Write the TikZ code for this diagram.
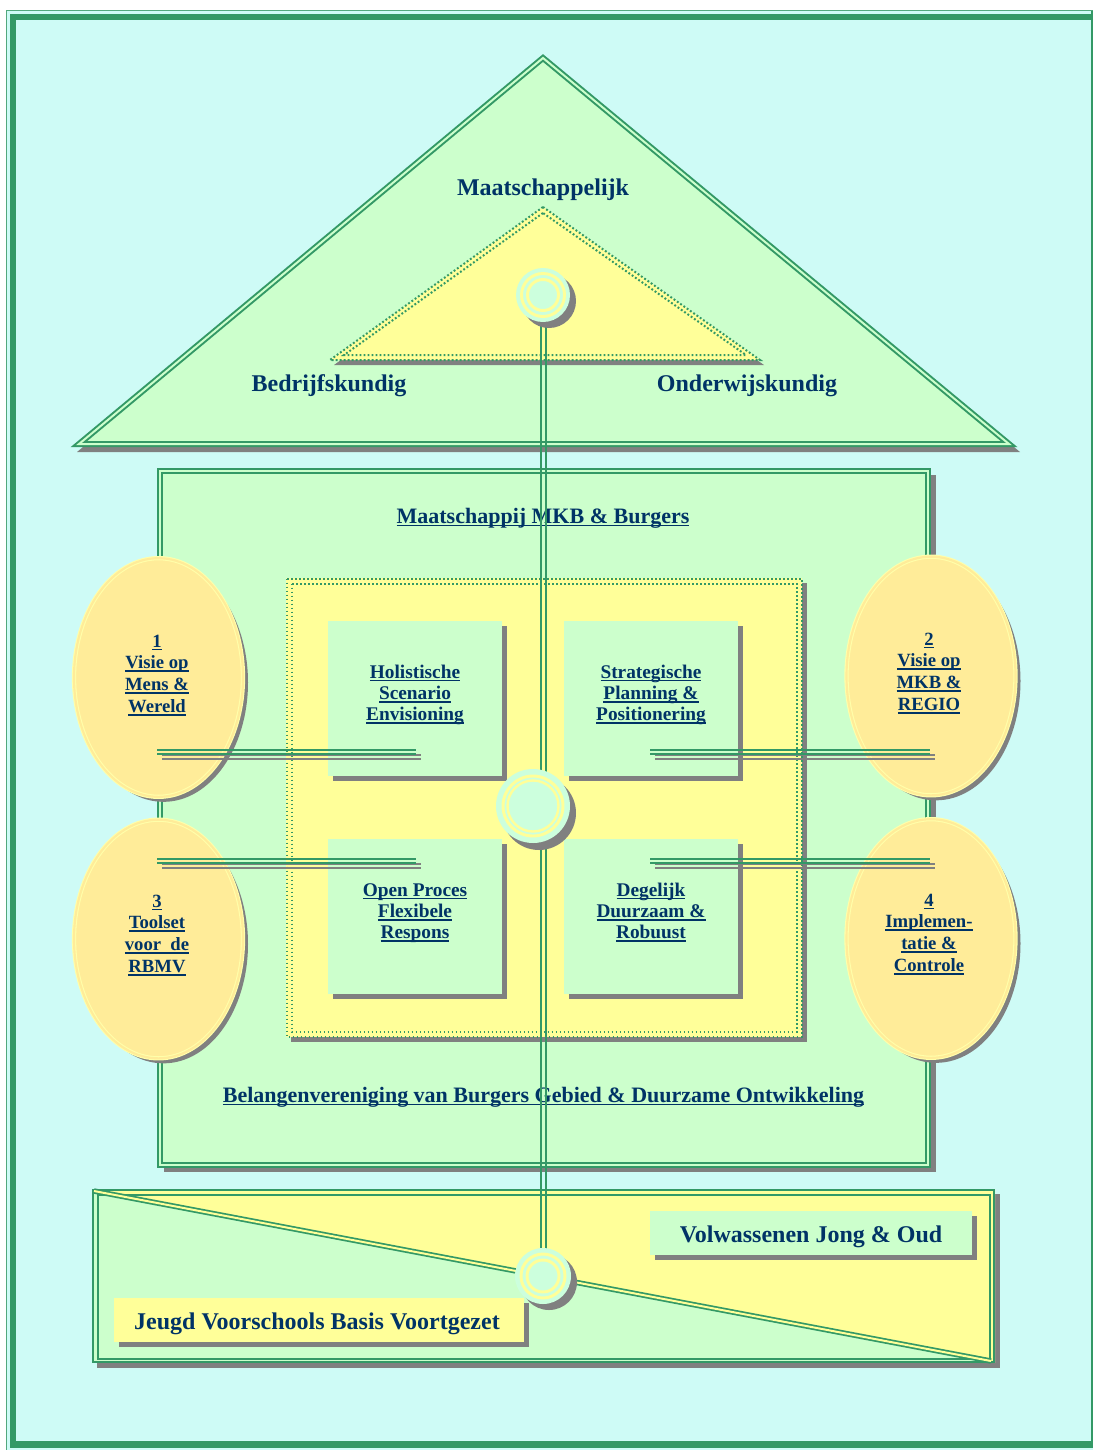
\documentclass[tikz,border=0pt]{standalone}
\usepackage{fontspec}
\setmainfont{Liberation Serif}
\usetikzlibrary{shapes.geometric}
\definecolor{bgc}{RGB}{206,251,246}
\definecolor{lgreen}{RGB}{204,255,204}
\definecolor{lyellow}{RGB}{255,255,153}
\definecolor{eyellow}{RGB}{255,236,153}
\definecolor{eline}{RGB}{255,255,170}
\definecolor{dgreen}{RGB}{51,153,102}
\definecolor{shad}{RGB}{128,128,128}
\definecolor{navy}{RGB}{0,51,102}
\definecolor{ccyan}{RGB}{204,255,221}
\newcommand\ulx[1]{\setbox0\hbox{#1}\rlap{\rule[-2.6pt]{\wd0}{1.4pt}}\box0}
\newcommand\stk[1]{\begin{tabular}[t]{@{}c@{}}#1\end{tabular}}
\begin{document}
\begin{tikzpicture}[x=0.75pt,y=-0.75pt,
  dbl/.style={draw=dgreen,line width=1.5pt,double=lgreen,double distance=1.5pt,line join=miter},
  dots/.style={draw=dgreen,line width=1.5pt,dash pattern=on 1.4pt off 1.6pt},
  txt/.style={text=navy,inner sep=0pt,font=\bfseries},
  big/.style={txt,font=\fontsize{18}{21}\selectfont\bfseries},
  mid/.style={txt,font=\fontsize{16.5}{19}\selectfont\bfseries},
  boxt/.style={txt,font=\fontsize{14.5}{16}\selectfont\bfseries},
  ellt/.style={txt,font=\fontsize{14}{16.3}\selectfont\bfseries},
  ellsh/.style={ellipse,fill=shad,draw=none,inner sep=0pt,minimum width=126.75pt,minimum height=179pt},
  ell/.style={ellipse,fill=eyellow,draw=eline,line width=0.8pt,double=eyellow,double distance=1.6pt,inner sep=0pt,minimum width=126.75pt,minimum height=179pt},
  conn/.style={dgreen,line width=1.4pt},
  connsh/.style={shad,line width=1.4pt},
  vline/.style={dgreen,line width=1.3pt},
  ring/.style={lyellow,line width=2.2pt},
  discsh/.style={circle,fill=shad,draw=none,inner sep=0pt},
  disc/.style={circle,fill=ccyan,draw=none,inner sep=0pt}
]
\useasboundingbox (0,0) rectangle (1093,1450);
% background and frame
\fill[white] (0,0) rectangle (1093,1450);
\fill[bgc] (6,10) rectangle (1093,1450);
\draw[dgreen!85,line width=1.4pt] (6.5,1450) -- (6.5,10.5) -- (1093,10.5);
\draw[dgreen,line width=4.6pt] (1093,16.7) -- (13,16.7) -- (13,1444.5) -- (1093,1444.5);
\draw[dgreen,line width=1.2pt] (1092,10.5) -- (1092,1442);

% roof
\fill[shad] (548,59) -- (77,452) -- (1020,452) -- cycle;
\draw[dbl,fill=lgreen] (543,58) -- (79,444) -- (1009,444) -- cycle;
\node[big,anchor=base] (tm) at (543,195) {Maatschappelijk};
\node[big,anchor=base] (tb) at (329,391) {Bedrijfskundig};
\node[big,anchor=base] (to) at (747,391) {Onderwijskundig};

% inner triangle
\fill[shad] (547,212) -- (334,365) -- (764,365) -- cycle;
\fill[lyellow] (543,207) -- (330,360) -- (760,360) -- cycle;
\draw[dots] (543,207) -- (330,360) -- (760,360) -- cycle;
\draw[dots] (543,213) -- (344,355) -- (746,355) -- cycle;

% body
\fill[shad] (164,475) rectangle (936,1172);
\draw[dbl,fill=lgreen] (160,471) rectangle (928,1165);

% inner square
\fill[shad] (291,583) rectangle (807,1042);
\fill[lyellow] (286,578) rectangle (802,1037);
\draw[dots] (286.5,578.5) rectangle (801.5,1036.5);
\draw[dots] (291.5,583.5) rectangle (796.5,1031.5);

% four boxes
\fill[shad] (333,626) rectangle (507,781);
\fill[lgreen] (328,621) rectangle (502,776);
\fill[shad] (569,626) rectangle (743,781);
\fill[lgreen] (564,621) rectangle (738,776);
\fill[shad] (333,844) rectangle (507,999);
\fill[lgreen] (328,839) rectangle (502,994);
\fill[shad] (569,844) rectangle (743,999);
\fill[lgreen] (564,839) rectangle (738,994);
\node[boxt,anchor=base] (b1) at (415,678) {\stk{\ulx{Holistische}\\\ulx{Scenario}\\\ulx{Envisioning}}};
\node[boxt,anchor=base] (b2) at (651,678) {\stk{\ulx{Strategische}\\\ulx{Planning \&}\\\ulx{Positionering}}};
\node[boxt,anchor=base] (b3) at (415,896) {\stk{\ulx{Open Proces}\\\ulx{Flexibele}\\\ulx{Respons}}};
\node[boxt,anchor=base] (b4) at (651,896) {\stk{\ulx{Degelijk}\\\ulx{Duurzaam \&}\\\ulx{Robuust}}};

% ellipses
\node[ellsh] (e1s) at (163.5,682.5) {};
\node[ell] (e1) at (158.5,677.5) {};
\node[ellsh] (e2s) at (936,681) {};
\node[ell] (e2) at (931,676) {};
\node[ellsh] (e3s) at (163.5,944) {};
\node[ell] (e3) at (158.5,939) {};
\node[ellsh] (e4s) at (936,943.5) {};
\node[ell] (e4) at (931,938.5) {};
\node[ellt,anchor=base] (e1t) at (157,647) {\stk{\ulx{1}\\\ulx{Visie op}\\\ulx{Mens \&}\\\ulx{Wereld}}};
\node[ellt,anchor=base] (e2t) at (929,645) {\stk{\ulx{2}\\\ulx{Visie op}\\\ulx{MKB \&}\\\ulx{REGIO}}};
\node[ellt,anchor=base] (e3t) at (157,907) {\stk{\ulx{3}\\\ulx{Toolset}\\\ulx{voor\ \ de}\\\ulx{RBMV}}};
\node[ellt,anchor=base] (e4t) at (929,906) {\stk{\ulx{4}\\\ulx{Implemen-}\\\ulx{tatie \&}\\\ulx{Controle}}};

% body texts
\node[mid,anchor=base] (tmkb) at (543,523) {\ulx{Maatschappij MKB \& Burgers}};
\node[mid,anchor=base] (tbel) at (543.5,1102) {\ulx{Belangenvereniging van Burgers Gebied \& Duurzame Ontwikkeling}};

% bottom section
\fill[shad] (97,1194) rectangle (1000,1368);
\fill[lgreen] (92,1189) rectangle (995,1363);
\fill[lyellow] (92,1189) -- (995,1189) -- (995,1363) -- cycle;
\draw[dgreen,line width=1.5pt] (93,1190) rectangle (994,1362);
\draw[dgreen,line width=1.5pt] (97.5,1194.5) rectangle (989.5,1358.5);
\draw[draw=dgreen,line width=1.3pt,double=lyellow,double distance=1.5pt] (94,1191) -- (991,1361);
\fill[shad] (119,1303) rectangle (529,1347);
\fill[lyellow] (114,1298) rectangle (524,1342);
\fill[shad] (655,1216) rectangle (977,1260);
\fill[lgreen] (650,1211) rectangle (972,1255);
\node[big,anchor=base] (tj) at (317,1329) {Jeugd Voorschools Basis Voortgezet};
\node[big,anchor=base] (tv) at (811,1242) {Volwassenen Jong \& Oud};

% horizontal connectors
\coordinate (h1a) at (157,750); \coordinate (h1b) at (416,750);
\coordinate (h2a) at (650,750); \coordinate (h2b) at (930,750);
\coordinate (h3a) at (157,859); \coordinate (h3b) at (416,859);
\coordinate (h4a) at (650,859); \coordinate (h4b) at (930,859);
\foreach \a/\b in {h1a/h1b,h2a/h2b,h3a/h3b,h4a/h4b}{
  \draw[connsh] ([shift={(5,5)}]\a) -- ([shift={(5,5)}]\b);
  \draw[connsh] ([shift={(5,9)}]\a) -- ([shift={(5,9)}]\b);
  \draw[conn] (\a) -- (\b);
  \draw[conn] ([shift={(0,4)}]\a) -- ([shift={(0,4)}]\b);
}

% vertical spine
\coordinate (vt) at (543.5,295);
\coordinate (vb) at (543.5,1276);
\draw[vline] ([shift={(-2.2,0)}]vt) -- ([shift={(-2.2,0)}]vb);
\draw[vline] ([shift={(2.2,0)}]vt) -- ([shift={(2.2,0)}]vb);

% discs
\node[discsh,minimum size=40.5pt] (cts) at (549,301) {};
\node[disc,minimum size=40.5pt] (ct) at (543,295) {};
\draw[ring] (ct.center) circle[radius=21.5];
\draw[ring] (ct.center) circle[radius=15.5];

\node[discsh,minimum size=55.5pt] (ccs) at (539,813) {};
\node[disc,minimum size=55.5pt] (cc) at (533,806) {};
\draw[ring] (cc.center) circle[radius=30];
\draw[ring,line width=1.8pt] (cc.center) circle[radius=25.5];

\node[discsh,minimum size=42pt] (cbs) at (549,1282) {};
\node[disc,minimum size=42pt] (cb) at (543,1276) {};
\draw[ring] (cb.center) circle[radius=22];
\draw[ring] (cb.center) circle[radius=16];
\end{tikzpicture}
\end{document}
